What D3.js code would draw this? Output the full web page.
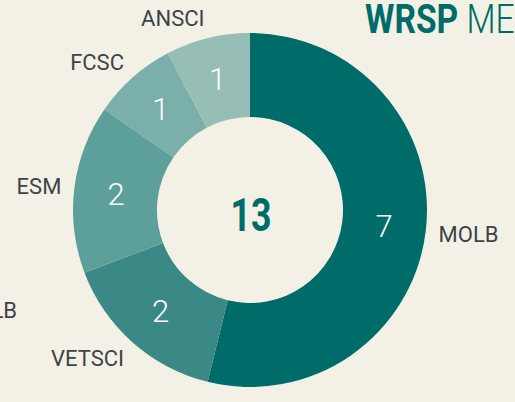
<!DOCTYPE html>
<html>
<head>
<meta charset="utf-8">
<script src="https://cdn.jsdelivr.net/npm/d3@7"></script>
<style>
  html, body { margin: 0; padding: 0; background: #f3f1e6; }
  svg { display: block; font-family: Roboto, "DejaVu Sans", sans-serif; }
</style>
</head>
<body>
<div id="chart"></div>
<script>
const categories = ['MOLB', 'VETSCI', 'ESM', 'FCSC', 'ANSCI'];
const counts = [7, 2, 2, 1, 1];
const colors = ['#006c69', '#3a8986', '#5d9f9b', '#7aafaa', '#96bdb6'];

const width = 515;
const height = 402;
const cx = 250;
const cy = 210;
const outerR = 177;
const innerR = 93;
const labelR = 190;
const labelSize = 22;

const data = categories.map((name, i) => ({ name, value: counts[i], color: colors[i] }));

const svg = d3.select('#chart').append('svg')
  .attr('width', width)
  .attr('height', height)
  .attr('viewBox', `0 0 ${width} ${height}`);

svg.append('rect').attr('width', width).attr('height', height).attr('fill', '#f3f1e6');

const pie = d3.pie().value((d) => d.value).sort(null);
const arc = d3.arc().innerRadius(innerR).outerRadius(outerR);

const g = svg.append('g').attr('transform', `translate(${cx},${cy})`);
const arcs = pie(data);

g.selectAll('path.slice')
  .data(arcs)
  .join('path')
  .attr('class', 'slice')
  .attr('d', arc)
  .attr('fill', (d) => d.data.color);

// values inside the ring
g.selectAll('text.val')
  .data(arcs)
  .join('text')
  .attr('class', 'val')
  .attr('transform', (d) => `translate(${arc.centroid(d)})`)
  .attr('text-anchor', 'middle')
  .attr('dy', '0.36em')
  .attr('font-size', 31)
  .attr('font-weight', 300)
  .attr('fill', '#ffffff')
  .text((d) => d.data.value);

// category labels outside: the box corner nearest the ring sits on labelR
g.selectAll('text.cat')
  .data(arcs)
  .join('text')
  .attr('class', 'cat')
  .each(function (d) {
    const a = (d.startAngle + d.endAngle) / 2;
    const px = labelR * Math.sin(a);
    const py = -labelR * Math.cos(a);
    const capH = labelSize * 0.71;
    d3.select(this)
      .attr('x', px)
      .attr('y', py - Math.cos(a) * capH / 2 + capH / 2)
      .attr('text-anchor', Math.sin(a) < 0 ? 'end' : 'start');
  })
  .attr('font-size', labelSize)
  .attr('fill', '#3e4347')
  .text((d) => d.data.name);

// total in the middle
g.append('text')
  .attr('text-anchor', 'middle')
  .attr('transform', 'translate(1,21) scale(0.76,1)')
  .attr('font-size', 47)
  .attr('font-weight', 700)
  .attr('fill', '#006c69')
  .text(d3.sum(counts));

// title, cut off at the right edge
const title = svg.append('text')
  .attr('transform', 'translate(365,33) scale(0.84,1)')
  .attr('font-size', 40)
  .attr('fill', '#006c69');
title.append('tspan').attr('font-weight', 700).text('WRSP');
title.append('tspan').attr('font-weight', 300).text(' MEMBERS');

// neighbouring chart label, cut off at the left edge
svg.append('text')
  .attr('x', 17)
  .attr('y', 318)
  .attr('text-anchor', 'end')
  .attr('font-size', labelSize)
  .attr('fill', '#3e4347')
  .text('MOLB');
</script>
</body>
</html>
